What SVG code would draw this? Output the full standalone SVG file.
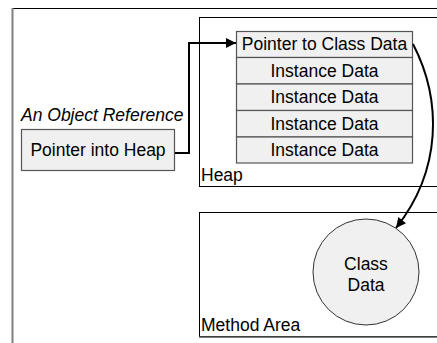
<svg xmlns="http://www.w3.org/2000/svg" width="437" height="343" viewBox="0 0 437 343">
<style>
text{font-family:"Liberation Sans",Arial,sans-serif;font-size:17.5px;fill:#000}
.cell{fill:#f0f0f0;stroke:#555;stroke-width:1.2}
.area{fill:#fff;stroke:#000;stroke-width:1}
.conn{fill:none;stroke:#000;stroke-width:2}
.mid{text-anchor:middle}
</style>
<defs>
<marker id="arr" viewBox="0 0 10 10" refX="10" refY="5" markerWidth="11" markerHeight="10" markerUnits="userSpaceOnUse" orient="auto">
<path d="M0,0 L10,5 L0,10 Z" fill="#000"/>
</marker>
</defs>
<rect width="437" height="343" fill="#fff"/>
<g id="frame">
<line x1="12" y1="8.5" x2="437" y2="8.5" stroke="#000" stroke-width="1.2"/>
<line x1="12.5" y1="8" x2="12.5" y2="343" stroke="#808080" stroke-width="2"/>
</g>
<g id="heap">
<rect class="area" x="199.5" y="17.5" width="250" height="169"/>
<text x="201" y="181">Heap</text>
</g>
<g id="method-area">
<rect class="area" x="199.5" y="212.5" width="250" height="124"/>
<line x1="199" y1="337" x2="437" y2="337" stroke="#555" stroke-width="1.5"/>
<text x="201" y="331">Method Area</text>
</g>
<g id="object">
<rect class="cell" x="236.5" y="31.5" width="176" height="26"/>
<text class="mid" x="324.5" y="50">Pointer to Class Data</text>
<rect class="cell" x="236.5" y="57.5" width="176" height="26.5"/>
<text class="mid" x="324.5" y="76.5">Instance Data</text>
<rect class="cell" x="236.5" y="84" width="176" height="26.5"/>
<text class="mid" x="324.5" y="103">Instance Data</text>
<rect class="cell" x="236.5" y="110.5" width="176" height="26.5"/>
<text class="mid" x="324.5" y="129.5">Instance Data</text>
<rect class="cell" x="236.5" y="137" width="176" height="26"/>
<text class="mid" x="324.5" y="156">Instance Data</text>
</g>
<g id="reference">
<text x="21" y="121" font-style="italic">An Object Reference</text>
<rect class="cell" x="21.5" y="129.5" width="153" height="41"/>
<text class="mid" x="98" y="156">Pointer into Heap</text>
</g>
<g id="class-data">
<circle cx="366" cy="272" r="53" fill="#f0f0f0" stroke="#333" stroke-width="1"/>
<text class="mid" x="366" y="270">Class</text>
<text class="mid" x="366" y="291">Data</text>
</g>
<g id="connectors">
<path class="conn" d="M175,153 H189 V43 H236" marker-end="url(#arr)"/>
<path class="conn" d="M413,44 C442,100 442,170 396,228" marker-end="url(#arr)"/>
</g>
</svg>
